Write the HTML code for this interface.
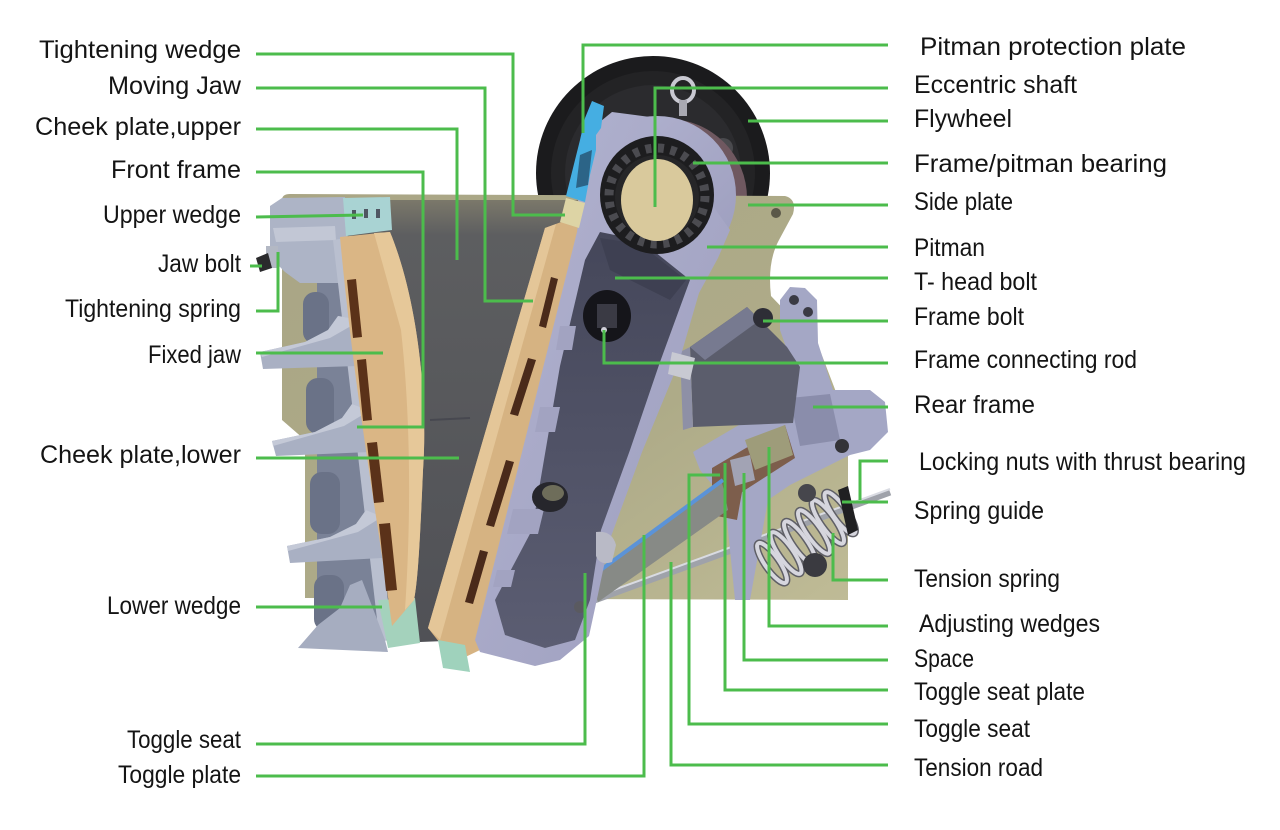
<!DOCTYPE html>
<html>
<head>
<meta charset="utf-8">
<style>
  html,body{margin:0;padding:0;background:#ffffff;}
  body{width:1280px;height:830px;overflow:hidden;}
  svg{display:block;}
  text{font-family:"Liberation Sans", Arial, sans-serif;font-size:25px;fill:#141414;}
</style>
</head>
<body>
<svg width="1280" height="830" viewBox="0 0 1280 830" xmlns="http://www.w3.org/2000/svg">
  <defs>
    <linearGradient id="ch" x1="0" y1="0" x2="0" y2="1">
      <stop offset="0" stop-color="#7b786a"/>
      <stop offset="0.08" stop-color="#5d5e60"/>
      <stop offset="1" stop-color="#505156"/>
    </linearGradient>
    <linearGradient id="ol" x1="0" y1="0" x2="1" y2="1">
      <stop offset="0" stop-color="#a9a585"/>
      <stop offset="0.6" stop-color="#aeab88"/>
      <stop offset="1" stop-color="#bfbb96"/>
    </linearGradient>
    <linearGradient id="pd" x1="0" y1="0" x2="0" y2="1">
      <stop offset="0" stop-color="#45475a"/>
      <stop offset="1" stop-color="#5b5d72"/>
    </linearGradient>
    <linearGradient id="pit" x1="0" y1="0" x2="1" y2="1">
      <stop offset="0" stop-color="#b3b4d1"/>
      <stop offset="1" stop-color="#9c9dbd"/>
    </linearGradient>
  </defs>

  <!-- Flywheel -->
  <circle cx="653" cy="173" r="117" fill="#1b1b1d"/>
  <circle cx="653" cy="173" r="102" fill="#232325"/>
  <circle cx="653" cy="173" r="88" fill="#2b2b2e"/>
  <circle cx="615" cy="125" r="12" fill="#4e4e52"/>
  <circle cx="723" cy="148" r="10" fill="#4a4a4e"/>
  <circle cx="668" cy="198" r="79" fill="#6f5860"/>
  <ellipse cx="683" cy="90" rx="11" ry="12" fill="none" stroke="#c9c9d2" stroke-width="4"/>
  <rect x="679" y="100" width="8" height="16" fill="#a9a9b2"/>

  <!-- Olive side plate -->
  <path d="M282,200 Q282,194 290,194 L785,196 Q797,199 793,214 L779,240 Q767,262 771,296 L818,345 L836,392 L848,455 L848,600 L305,598 L305,440 L282,420 Z" fill="url(#ol)"/>
  <circle cx="776" cy="213" r="5" fill="#5a5848"/>

  <!-- Chamber -->
  <polygon points="322,200 578,200 578,240 470,640 420,642 322,600" fill="url(#ch)"/>
  <line x1="430" y1="420" x2="470" y2="418" stroke="#474850" stroke-width="2"/>

  <!-- Fixed frame -->
  <polygon points="317,282 345,240 392,640 317,645" fill="#7a8297"/>
  <rect x="303" y="292" width="26" height="52" rx="12" fill="#6a7287"/>
  <rect x="306" y="378" width="28" height="56" rx="12" fill="#6a7287"/>
  <rect x="310" y="472" width="30" height="62" rx="12" fill="#6a7287"/>
  <rect x="314" y="575" width="30" height="56" rx="12" fill="#6a7287"/>
  <polygon points="270,206 282,198 345,197 348,240 340,283 300,283 285,272 275,262 270,246" fill="#adb4c6"/>
  <polygon points="273,228 335,226 336,240 276,242" fill="#c2c7d5"/>
  <polygon points="333,240 346,238 392,635 380,645" fill="#b9bfcf"/>
  <polygon points="260,352 305,342 328,330 338,316 350,318 358,366 263,369" fill="#a9b0c3"/>
  <polygon points="260,352 305,342 328,330 338,316 350,318 351,326 330,338 262,357" fill="#c4c9d7"/>
  <polygon points="272,441 315,432 342,418 352,404 363,408 370,452 276,456" fill="#a9b0c3"/>
  <polygon points="272,441 315,432 342,418 352,404 363,408 364,414 344,426 273,446" fill="#c4c9d7"/>
  <polygon points="287,546 330,537 356,524 366,510 376,514 383,558 290,563" fill="#a9b0c3"/>
  <polygon points="287,546 330,537 356,524 366,510 376,514 377,520 358,532 288,551" fill="#c4c9d7"/>
  <polygon points="298,648 318,625 340,608 350,585 362,580 385,640 388,652" fill="#a6adc0"/>
  <rect x="266" y="246" width="12" height="22" fill="#b3b8c4"/>
  <polygon points="256,258 268,253 272,268 260,272" fill="#2a2a2c"/>
  <polygon points="343,198 390,197 392,230 346,236" fill="#a9d3d3"/>
  <rect x="352" y="210" width="4" height="9" fill="#4f5662"/>
  <rect x="364" y="209" width="4" height="9" fill="#4f5662"/>
  <rect x="376" y="209" width="4" height="9" fill="#4f5662"/>
  <polygon points="378,600 415,598 420,643 388,648" fill="#a4d2bc"/>

  <!-- Fixed jaw plate -->
  <path d="M340,237 L390,232 C418,300 428,400 423,470 C420,540 418,580 414,600 L392,626 C378,520 355,400 340,237 Z" fill="#dab685"/>
  <path d="M374,233 L390,232 C418,300 428,400 423,470 C420,540 418,580 414,600 L405,610 C411,520 411,420 401,330 Z" fill="#e6c899"/>
  <polygon points="347,280 356,279 362,337 353,338" fill="#5b3219"/>
  <polygon points="357,360 366,359 372,420 363,421" fill="#5b3219"/>
  <polygon points="367,443 377,442 384,502 374,503" fill="#5b3219"/>
  <polygon points="379,524 390,523 397,590 386,591" fill="#5b3219"/>

  <!-- Moving jaw plate -->
  <polygon points="545,228 572,218 579,225 480,650 455,662 428,628" fill="#d6b382"/>
  <polygon points="545,228 556,224 440,640 428,628" fill="#e4c698"/>
  <polygon points="551,277 558,279 546,328 539,326" fill="#4a2a1a"/>
  <polygon points="528,358 536,360 518,416 510,414" fill="#4a2a1a"/>
  <polygon points="506,460 514,462 494,527 486,525" fill="#4a2a1a"/>
  <polygon points="480,550 488,552 473,604 465,602" fill="#4a2a1a"/>
  <polygon points="438,640 465,645 470,672 443,668" fill="#9fd2bc"/>

  <!-- Tension rod -->
  <line x1="589" y1="602" x2="890" y2="492" stroke="#9fa2aa" stroke-width="7"/>
  <line x1="589" y1="599" x2="890" y2="489" stroke="#d9dbe2" stroke-width="2"/>

  <!-- Rear frame -->
  <polygon points="780,300 790,287 805,288 817,300 818,343 833,390 870,390 885,402 888,432 870,450 850,455 790,485 768,500 750,600 735,600 725,500 700,470 693,452 790,395 800,367 787,350 780,330" fill="#a4a7c5"/>
  <circle cx="794" cy="300" r="5" fill="#3a3a44"/>
  <circle cx="808" cy="312" r="5" fill="#3a3a44"/>
  <polygon points="790,398 830,394 840,440 800,446" fill="#8a8dab"/>
  <polygon points="690,347 747,307 787,347 800,367 793,423 693,427" fill="#5b5d6c"/>
  <polygon points="690,347 747,307 760,320 705,360" fill="#777a90"/>
  <polygon points="680,352 690,347 693,427 683,430" fill="#8e90a6"/>
  <polygon points="712,468 785,425 795,458 742,492 737,520 712,515" fill="#7d5e4c"/>
  <polygon points="745,440 785,425 793,455 755,470" fill="#9e9c7a"/>
  <polygon points="730,460 750,455 755,480 735,486" fill="#a2a3b4"/>

  <!-- Toggle plate -->
  <polygon points="590,578 722,482 728,510 598,602" fill="#878a86"/>
  <line x1="587" y1="580" x2="723" y2="480" stroke="#5b93d8" stroke-width="4"/>

  <!-- Spring -->
  <g fill="none">
    <g stroke="#5f5f66" stroke-width="7">
      <ellipse cx="772" cy="563" rx="7" ry="24" transform="rotate(-35 772 563)"/>
      <ellipse cx="786" cy="553" rx="7" ry="25" transform="rotate(-35 786 553)"/>
      <ellipse cx="800" cy="543" rx="7" ry="26" transform="rotate(-35 800 543)"/>
      <ellipse cx="814" cy="532" rx="7" ry="26" transform="rotate(-35 814 532)"/>
      <ellipse cx="828" cy="522" rx="7" ry="26" transform="rotate(-35 828 522)"/>
      <ellipse cx="840" cy="513" rx="7" ry="25" transform="rotate(-35 840 513)"/>
    </g>
    <g stroke="#d6d6de" stroke-width="4">
      <ellipse cx="772" cy="563" rx="7" ry="24" transform="rotate(-35 772 563)"/>
      <ellipse cx="786" cy="553" rx="7" ry="25" transform="rotate(-35 786 553)"/>
      <ellipse cx="800" cy="543" rx="7" ry="26" transform="rotate(-35 800 543)"/>
      <ellipse cx="814" cy="532" rx="7" ry="26" transform="rotate(-35 814 532)"/>
      <ellipse cx="828" cy="522" rx="7" ry="26" transform="rotate(-35 828 522)"/>
      <ellipse cx="840" cy="513" rx="7" ry="25" transform="rotate(-35 840 513)"/>
    </g>
  </g>
  <polygon points="838,490 848,486 858,530 848,535" fill="#202022"/>
  <circle cx="815" cy="565" r="12" fill="#3a3a40"/>
  <circle cx="807" cy="493" r="9" fill="#46464c"/>
  <circle cx="842" cy="446" r="7" fill="#333338"/>
  <circle cx="763" cy="318" r="10" fill="#2e2e36"/>

  <!-- Pitman -->
  <circle cx="657" cy="195" r="79" fill="url(#pit)"/>
  <polygon points="590,130 612,112 650,117 730,230 718,258 699,293 679,362 642,452 609,542 597,599 589,636 560,660 535,666 480,652 475,640 577,232" fill="url(#pit)"/>
  <polygon points="600,232 640,240 690,280 660,362 630,450 601,530 590,600 575,640 545,648 505,635 495,600 532,530 560,366 585,260" fill="url(#pd)"/>
  <polygon points="560,326 576,326 572,350 556,350" fill="#a2a3c1"/>
  <polygon points="540,407 560,407 555,432 535,432" fill="#a2a3c1"/>
  <polygon points="513,509 544,509 538,534 507,534" fill="#a2a3c1"/>
  <polygon points="497,570 515,570 511,587 493,587" fill="#a2a3c1"/>
  <polygon points="600,238 640,244 686,280 670,300 610,270" fill="#3e4052"/>
  <ellipse cx="607" cy="316" rx="24" ry="26" fill="#15151a"/>
  <rect x="597" y="304" width="20" height="24" fill="#3a3a44"/>
  <circle cx="604" cy="330" r="3" fill="#cfcfd8"/>
  <ellipse cx="550" cy="497" rx="18" ry="15" fill="#26262c"/>
  <ellipse cx="553" cy="493" rx="11" ry="8" fill="#6e6d5a"/>
  <path d="M596,532 Q612,530 616,545 L612,562 Q600,566 596,556 Z" fill="#b9bac6"/>
  <polygon points="672,352 695,358 690,380 668,374" fill="#c8c9d2"/>
  <circle cx="580" cy="607" r="6" fill="#5a5a60"/>
  <ellipse cx="657" cy="195" rx="57" ry="59" fill="#1d1d1f"/>
  <circle cx="657" cy="196" r="48" fill="none" stroke="#4b4b50" stroke-width="9" stroke-dasharray="6 6.6"/>
  <circle cx="657" cy="197" r="42" fill="#262628"/>
  <ellipse cx="657" cy="200" rx="36" ry="41" fill="#d9c99c"/>

  <!-- Pitman protection plate -->
  <polygon points="592,101 604,106 601,128 596,135 596,150 590,175 585,202 566,196 575,160 580,140 585,118" fill="#45aee2"/>
  <polygon points="580,155 592,150 588,185 576,188" fill="#2c6487"/>
  <polygon points="566,198 585,203 579,228 560,222" fill="#ddd4a5"/>

  <!-- Green leader lines -->
  <g fill="none" stroke="#4cbc4c" stroke-width="3" stroke-linejoin="miter">
    <polyline points="256,54 513,54 513,215 565,215"/>
    <polyline points="256,88 485,88 485,301 533,301"/>
    <polyline points="256,129 457,129 457,260"/>
    <polyline points="256,172 423,172 423,427 357,427"/>
    <polyline points="256,217 363,215"/>
    <polyline points="250,266 262,266"/>
    <polyline points="256,311 278,311 278,252"/>
    <polyline points="256,353 383,353"/>
    <polyline points="256,458 459,458"/>
    <polyline points="256,607 382,607"/>
    <polyline points="256,744 585,744 585,573"/>
    <polyline points="256,776 644,776 644,535"/>

    <polyline points="888,45 583,45 583,133"/>
    <polyline points="888,88 655,88 655,207"/>
    <polyline points="888,121 748,121"/>
    <polyline points="888,163 693,163"/>
    <polyline points="888,205 748,205"/>
    <polyline points="888,247 707,247"/>
    <polyline points="888,278 615,278"/>
    <polyline points="888,321 763,321"/>
    <polyline points="888,363 604,363 604,330"/>
    <polyline points="888,407 813,407"/>
    <polyline points="888,461 860,461 860,500"/>
    <polyline points="888,502 842,502"/>
    <polyline points="888,580 833,580 833,533"/>
    <polyline points="888,626 769,626 769,447"/>
    <polyline points="888,660 744,660 744,473"/>
    <polyline points="888,690 725,690 725,463"/>
    <polyline points="888,724 689,724 689,475 720,475"/>
    <polyline points="888,765 671,765 671,562"/>
  </g>

  <!-- Left labels -->
  <text x="39" y="58" textLength="202" lengthAdjust="spacingAndGlyphs">Tightening wedge</text>
  <text x="108" y="94" textLength="133" lengthAdjust="spacingAndGlyphs">Moving Jaw</text>
  <text x="35" y="135" textLength="206" lengthAdjust="spacingAndGlyphs">Cheek plate,upper</text>
  <text x="111" y="178" textLength="130" lengthAdjust="spacingAndGlyphs">Front frame</text>
  <text x="103" y="223" textLength="138" lengthAdjust="spacingAndGlyphs">Upper wedge</text>
  <text x="158" y="272" textLength="83" lengthAdjust="spacingAndGlyphs">Jaw bolt</text>
  <text x="65" y="317" textLength="176" lengthAdjust="spacingAndGlyphs">Tightening spring</text>
  <text x="148" y="363" textLength="93" lengthAdjust="spacingAndGlyphs">Fixed jaw</text>
  <text x="40" y="463" textLength="201" lengthAdjust="spacingAndGlyphs">Cheek plate,lower</text>
  <text x="107" y="614" textLength="134" lengthAdjust="spacingAndGlyphs">Lower wedge</text>
  <text x="127" y="748" textLength="114" lengthAdjust="spacingAndGlyphs">Toggle seat</text>
  <text x="118" y="783" textLength="123" lengthAdjust="spacingAndGlyphs">Toggle plate</text>

  <!-- Right labels -->
  <text x="920" y="55" textLength="266" lengthAdjust="spacingAndGlyphs">Pitman protection plate</text>
  <text x="914" y="93" textLength="163" lengthAdjust="spacingAndGlyphs">Eccentric shaft</text>
  <text x="914" y="127" textLength="98" lengthAdjust="spacingAndGlyphs">Flywheel</text>
  <text x="914" y="172" textLength="253" lengthAdjust="spacingAndGlyphs">Frame/pitman bearing</text>
  <text x="914" y="210" textLength="99" lengthAdjust="spacingAndGlyphs">Side plate</text>
  <text x="914" y="256" textLength="71" lengthAdjust="spacingAndGlyphs">Pitman</text>
  <text x="914" y="290" textLength="123" lengthAdjust="spacingAndGlyphs">T- head bolt</text>
  <text x="914" y="325" textLength="110" lengthAdjust="spacingAndGlyphs">Frame bolt</text>
  <text x="914" y="368" textLength="223" lengthAdjust="spacingAndGlyphs">Frame connecting rod</text>
  <text x="914" y="413" textLength="121" lengthAdjust="spacingAndGlyphs">Rear frame</text>
  <text x="919" y="470" textLength="327" lengthAdjust="spacingAndGlyphs">Locking nuts with thrust bearing</text>
  <text x="914" y="519" textLength="130" lengthAdjust="spacingAndGlyphs">Spring guide</text>
  <text x="914" y="587" textLength="146" lengthAdjust="spacingAndGlyphs">Tension spring</text>
  <text x="919" y="632" textLength="181" lengthAdjust="spacingAndGlyphs">Adjusting wedges</text>
  <text x="914" y="667" textLength="60" lengthAdjust="spacingAndGlyphs">Space</text>
  <text x="914" y="700" textLength="171" lengthAdjust="spacingAndGlyphs">Toggle seat plate</text>
  <text x="914" y="737" textLength="116" lengthAdjust="spacingAndGlyphs">Toggle seat</text>
  <text x="914" y="776" textLength="129" lengthAdjust="spacingAndGlyphs">Tension road</text>
</svg>
</body>
</html>
